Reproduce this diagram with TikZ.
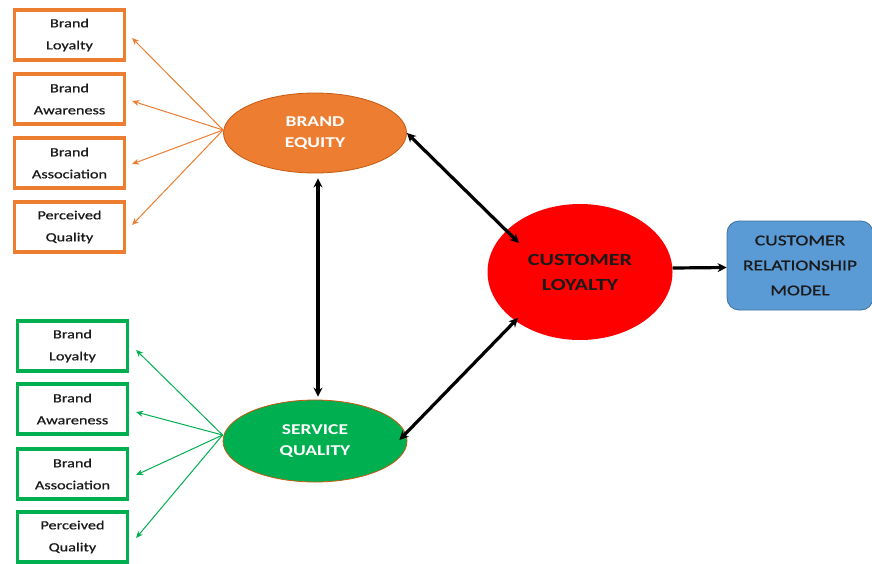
\documentclass[tikz,border=0pt]{standalone}
\usepackage{fontspec}
\setmainfont[FakeStretch=1.3]{Carlito}
\newfontfamily\boxfont[FakeStretch=1.3,FakeBold=0.8]{Carlito}
\usetikzlibrary{arrows.meta,shapes.geometric}
\definecolor{org}{HTML}{ED7D31}
\definecolor{orgd}{HTML}{C55A11}
\definecolor{grn}{HTML}{00B050}
\definecolor{blu}{HTML}{5B9BD5}
\definecolor{blud}{HTML}{41719C}
\definecolor{txt}{HTML}{1A1A1A}
\tikzset{
  smallbox/.style={draw, line width=3.2pt, minimum width=110pt, minimum height=50pt, inner sep=0pt,
    align=center, text=txt, font=\boxfont\fontsize{12.5}{22}\selectfont},
  obox/.style={smallbox, draw=org},
  gbox/.style={smallbox, draw=grn},
  bigell/.style={ellipse, inner sep=0pt, align=center},
  thinarr/.style={line width=1pt, -{Stealth[length=7pt,width=6pt]}},
  thickarr/.style={line width=3.2pt, -{Stealth[length=9pt,width=9pt]}},
  dblarr/.style={line width=3.2pt, {Stealth[length=9pt,width=9pt]}-{Stealth[length=9pt,width=9pt]}},
}
\begin{document}
\begin{tikzpicture}[x=1pt,y=-1pt]
\useasboundingbox (0,0) rectangle (872,563);
% left boxes
\node[obox] (o1) at (69.5,35) {Brand\\Loyalty};
\node[obox] (o2) at (69.5,99) {Brand\\Awareness};
\node[obox] (o3) at (69.5,163) {Brand\\Association};
\node[obox] (o4) at (69.5,227) {Perceived\\Quality};
\node[gbox] (g1) at (72.5,346) {Brand\\Loyalty};
\node[gbox] (g2) at (72.5,409) {Brand\\Awareness};
\node[gbox] (g3) at (72.5,474) {Brand\\Association};
\node[gbox] (g4) at (72.5,537) {Perceived\\Quality};
% ellipses
\node[bigell, fill=org, draw=orgd, line width=0.8pt, minimum width=183pt, minimum height=80pt,
  text=white, font=\bfseries\fontsize{15}{21}\selectfont] (be) at (315,133) {BRAND\\EQUITY};
\node[bigell, fill=grn, draw=orgd, line width=0.8pt, minimum width=184pt, minimum height=82pt,
  text=white, font=\bfseries\fontsize{15}{21}\selectfont] (sq) at (315,441) {SERVICE\\QUALITY};
\node[bigell, fill=red, minimum width=185pt, minimum height=136pt,
  text=txt, font=\bfseries\fontsize{17}{25}\selectfont] (cl) at (580,272) {CUSTOMER\\LOYALTY};
\node[rounded corners=12pt, fill=blu, draw=blud, line width=0.8pt, minimum width=146pt, minimum height=89pt,
  inner sep=0pt, align=center, text=txt, font=\boxfont\fontsize{15}{25}\selectfont] (crm) at (800,265.5)
  {CUSTOMER\\RELATIONSHIP\\MODEL};
% thin arrows
\foreach \b/\dy in {o1/3,o2/2,o3/1,o4/-2}{
  \draw[thinarr, org] ([shift={(0,-3)}]be.west) -- ([shift={(6,\dy)}]\b.east);
}
\foreach \b/\dy in {g1/4,g2/3,g3/1,g4/1}{
  \draw[thinarr, grn] ([shift={(0,-6)}]sq.west) -- ([shift={(7,\dy)}]\b.east);
}
% thick arrows
\draw[dblarr] ([shift={(3,5)}]be.south) -- ([shift={(3,-3)}]sq.north);
\draw[dblarr] (be.east) -- ([shift={(-61,-29)}]cl.center);
\draw[dblarr] ([shift={(-8,-1)}]sq.east) -- ([shift={(-62,46)}]cl.center);
\draw[thickarr] ([shift={(0,-4)}]cl.east) -- ([shift={(0,2)}]crm.west);
\end{tikzpicture}
\end{document}
